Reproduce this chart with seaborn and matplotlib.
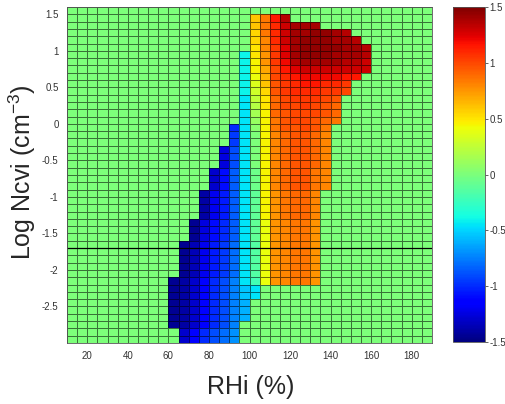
import numpy as np
import pandas as pd
import matplotlib
matplotlib.use('Agg')
import matplotlib.pyplot as plt
import seaborn as sns

sns.set_style('white')
plt.rcParams['font.family'] = ['Liberation Sans', 'DejaVu Sans']
plt.rcParams['mathtext.fontset'] = 'custom'
plt.rcParams['mathtext.rm'] = 'Liberation Sans'
plt.rcParams['mathtext.it'] = 'Liberation Sans'

# bins: RHi cells are 5 % wide (10..190), log Ncvi rows 0.1 tall (-3.0..1.6)
rhi_left = list(range(10, 190, 5))
log_lower = [round(1.5 - 0.1 * i, 1) for i in range(46)]

x_ticks = [20, 40, 60, 80, 100, 120, 140, 160, 180]
y_ticks = [1.5, 1, 0.5, 0, -0.5, -1, -1.5, -2, -2.5]
y_tick_labels = ['1.5', '1', '0.5', '0', '-0.5', '-1', '-1.5', '-2', '-2.5']
cbar_ticks = [-1.5, -1, -0.5, 0, 0.5, 1, 1.5]
cbar_labels = ['-1.5', '-1', '-0.5', '0', '0.5', '1', '1.5']

# coloured cells: (row lower edges, first RHi bin, values); everything else is 0
rows_top = [
    ([1.4], 100, [0.6, 0.85, 1.15, 1.35]),
    ([1.3], 100, [0.6, 0.85, 1.1, 1.3, 1.4, 1.4, 1.4]),
    ([1.2], 100, [0.55, 0.85, 1.1, 1.3, 1.4, 1.4, 1.45, 1.45, 1.4, 1.35]),
    ([1.1], 100, [0.55, 0.8, 1.1, 1.3, 1.4, 1.45, 1.45, 1.45, 1.4, 1.4, 1.35]),
    ([1.0], 100, [0.5, 0.8, 1.05, 1.25, 1.4, 1.45, 1.45, 1.45, 1.45, 1.4, 1.4, 1.35]),
    ([0.9], 95, [-0.4, 0.5, 0.75, 1.05, 1.25, 1.4, 1.45, 1.45, 1.45, 1.4, 1.4, 1.4, 1.35]),
    ([0.8], 95, [-0.4, 0.45, 0.75, 1.05, 1.2, 1.35, 1.4, 1.4, 1.4, 1.4, 1.35, 1.35, 1.3]),
    ([0.7], 95, [-0.4, 0.45, 0.7, 1.0, 1.15, 1.25, 1.3, 1.3, 1.3, 1.3, 1.3, 1.3, 1.3]),
    ([0.6], 95, [-0.4, 0.4, 0.65, 1.0, 1.1, 1.15, 1.2, 1.2, 1.2, 1.2, 1.15, 1.15]),
    ([0.5], 95, [-0.4, 0.35, 0.6, 0.95, 1.05, 1.1, 1.15, 1.15, 1.1, 1.1, 1.05]),
    ([0.4], 95, [-0.4, 0.3, 0.55, 0.95, 1.05, 1.1, 1.1, 1.1, 1.05, 1.05, 1.0]),
    ([0.3], 95, [-0.45, 0.25, 0.5, 0.9, 1.0, 1.05, 1.05, 1.05, 1.0, 0.95]),
    ([0.2], 95, [-0.45, 0.2, 0.5, 0.9, 1.0, 1.0, 1.05, 1.0, 0.95, 0.9]),
    ([0.1], 95, [-0.45, 0.15, 0.45, 0.9, 0.95, 1.0, 1.0, 1.0, 0.95, 0.9]),
    ([0.0], 95, [-0.45, 0.1, 0.45, 0.85, 0.95, 1.0, 1.0, 0.95, 0.9, 0.85]),
]
rows_mid = [
    ([-0.1], 90, [-1.0, -0.45, 0.05, 0.45, 0.85, 0.95, 0.95, 1.0, 0.95, 0.85]),
    ([-0.2, -0.3], 90, [-0.95, -0.45, 0.0, 0.45, 0.8, 0.9, 0.95, 0.95, 0.9, 0.8]),
    ([-0.4, -0.5, -0.6], 85, [-1.25, -0.9, -0.45, 0.0, 0.45, 0.8, 0.9, 0.95, 0.95, 0.9, 0.8]),
    ([-0.7, -0.8, -0.9], 80, [-1.3, -1.1, -0.85, -0.45, -0.05, 0.45, 0.8, 0.9, 0.95, 0.95, 0.85, 0.8]),
    ([-1.0, -1.1, -1.2, -1.3], 75, [-1.4, -1.2, -1.05, -0.85, -0.45, -0.1, 0.45, 0.75, 0.85, 0.9, 0.9, 0.8]),
    ([-1.4, -1.5, -1.6], 70, [-1.45, -1.25, -1.1, -1.0, -0.85, -0.45, -0.1, 0.4, 0.75, 0.8, 0.85, 0.85, 0.75]),
]
rows_low = [
    ([-1.7, -1.8, -1.9, -2.0, -2.1], 65,
     [-1.45, -1.35, -1.2, -1.05, -0.95, -0.8, -0.45, -0.15, 0.4, 0.75, 0.8, 0.85, 0.85, 0.75]),
    ([-2.2], 60, [-1.45, -1.4, -1.3, -1.15, -1.0, -0.9, -0.75, -0.45, -0.2, 0.4, 0.75, 0.8, 0.85, 0.85, 0.75]),
    ([-2.3, -2.4], 60, [-1.45, -1.4, -1.3, -1.15, -1.0, -0.9, -0.75, -0.55, -0.45]),
    ([-2.5, -2.6, -2.7], 60, [-1.45, -1.4, -1.3, -1.15, -1.0, -0.9, -0.75, -0.6]),
    ([-2.8], 60, [-1.45, -1.4, -1.3, -1.15, -1.0, -0.9, -0.75]),
    ([-2.9, -3.0], 65, [-1.3, -1.15, -1.0, -0.9, -0.8, -0.7]),
]

grid = pd.DataFrame(0.0, index=log_lower, columns=rhi_left)
for rows, start, vals in rows_top + rows_mid + rows_low:
    cols = rhi_left[rhi_left.index(start):rhi_left.index(start) + len(vals)]
    for r in rows:
        grid.loc[r, cols] = vals

fig = plt.figure(figsize=(5.05, 4.04), dpi=100)
ax = fig.add_axes([0.1327, 0.151, 0.7228, 0.8317])
cax = fig.add_axes([0.897, 0.1535, 0.0634, 0.829])

sns.heatmap(grid, ax=ax, cbar_ax=cax, cmap='jet', vmin=-1.5, vmax=1.5,
            linewidths=0.7, linecolor=(0, 0, 0, 0.55),
            xticklabels=False, yticklabels=False)

# map real values onto the heatmap's cell index axes
x0, dx = rhi_left[0], rhi_left[1] - rhi_left[0]
ytop, dy = log_lower[0] + 0.1, 0.1
ax.set_xticks([(v - x0) / dx for v in x_ticks])
ax.set_xticklabels([str(v) for v in x_ticks], fontsize=7, color='#333333')
ax.set_yticks([(ytop - v) / dy for v in y_ticks])
ax.set_yticklabels(y_tick_labels, fontsize=7, rotation=0, color='#333333')
ax.tick_params(axis='both', length=0, pad=6)

# highlighted level
ax.axhline((ytop - (-1.7)) / dy, color='black', lw=0.9)

for s in ax.spines.values():
    s.set_visible(True)
    s.set_linewidth(0.6)
    s.set_color('#555555')

cbar = ax.collections[0].colorbar
cbar.outline.set_visible(True)
cbar.outline.set_linewidth(0.6)
cbar.outline.set_edgecolor('#555555')
cbar.set_ticks(cbar_ticks)
cbar.set_ticklabels(cbar_labels)
cbar.ax.tick_params(labelsize=7, length=2, width=0.5, pad=1, direction='out',
                    labelcolor='#333333')

fig.text(0.497, 0.043, 'RHi (%)', ha='center', va='center', fontsize=18)
fig.text(0.044, 0.575, 'Log Ncvi (cm$^{-3}$)', ha='center', va='center',
         rotation=90, fontsize=18)

fig.savefig('out.png', dpi=100)
